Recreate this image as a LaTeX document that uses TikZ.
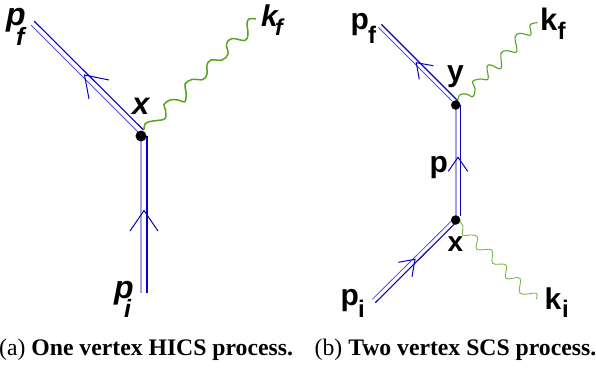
\documentclass[tikz,border=0pt]{standalone}
\usepackage{fontspec}
\setsansfont{Liberation Sans}
\setmainfont{Liberation Serif}
\definecolor{fblue}{RGB}{10,0,185}
\definecolor{lblue}{RGB}{165,160,235}
\definecolor{gleft}{RGB}{85,165,25}
\definecolor{gright}{RGB}{120,185,70}
\tikzset{
 lbl/.style={inner sep=0pt,anchor=base west,font=\fontsize{30}{30}\sffamily\bfseries,text=black},
 lbi/.style={lbl,font=\fontsize{32}{32}\sffamily\bfseries\itshape},
 sbl/.style={inner sep=0pt,anchor=base west,font=\fontsize{24}{24}\sffamily\bfseries,text=black},
 sbi/.style={sbl,font=\fontsize{25}{25}\sffamily\bfseries\itshape},
 captxt/.style={inner sep=0pt,anchor=base west,font=\fontsize{23.7}{26}\rmfamily,text=black},
 vtx/.style={circle,fill=black,inner sep=0pt,minimum size=11pt},
 vts/.style={circle,fill=black,inner sep=0pt,minimum size=9.5pt},
 dk/.style={draw=fblue,line width=1.1pt},
 lt/.style={draw=lblue,line width=2.2pt},
 lm/.style={draw=fblue!70!white,line width=.8pt},
 bb/.style={draw=fblue,line width=1pt,line join=miter},
 gwave/.style={draw=gleft,line width=1.5pt},
 gthin/.style={draw=gright,line width=.9pt},
}
\begin{document}
\begin{tikzpicture}[x=1pt,y=-1pt]
\useasboundingbox (0,0) rectangle (596,367);
% left diagram
\coordinate (aPa) at (34,21);
\coordinate (aPb) at (143.5,130);
\coordinate (aQa) at (31,25);
\coordinate (aQb) at (138,132);
\coordinate (aVa) at (141,136);
\coordinate (aVb) at (141,293);
\coordinate (aWa) at (147,136);
\coordinate (aWb) at (147,293);
\draw[dk] (aPa) -- (aPb);
\draw[lm] (aQa) -- (aQb);
\draw[lt] (aVa) -- (aVb);
\draw[dk] (aWa) -- (aWb);
\node[vtx] (av) at (141,136) {};
\draw[bb] (109,80) -- (84.5,75) -- (89,99);
\draw[bb] (130,231) -- (144,210.5) -- (158,231);
\draw[gwave] plot[smooth,tension=.62] coordinates {(144,129.5) (145,124) (150,121.5) (157,120.5) (165,118.5) (165.5,110) (164,104.5) (170,100) (178,100) (185,101.5) (186,92) (185,84) (192,79.5) (203,79.5) (207,74) (207,65) (211,60) (222,60) (228,54) (226.5,44) (232,38.5) (245,40.5) (248,34) (247,24) (249,19) (256,19)};
\node[lbi] (apf) at (6,25) {p};
\node[sbi] (apfs) at (16,45) {f};
\node[lbi,font=\fontsize{30}{30}\sffamily\bfseries\itshape] (akf) at (261,26) {k};
\node[sbi,font=\fontsize{23}{23}\sffamily\bfseries\itshape] (akfs) at (275,35) {f};
\node[lbi,font=\fontsize{31}{31}\sffamily\bfseries\itshape] (ax) at (132,114) {x};
\node[lbi] (api) at (114,298) {p};
\node[sbi] (apis) at (124,317) {i};
% right diagram
\coordinate (bPa) at (381.3,24.3);
\coordinate (bPb) at (457.7,100.7);
\coordinate (bQa) at (378.3,27.3);
\coordinate (bQb) at (451.7,100.7);
\coordinate (bVa) at (455.7,105);
\coordinate (bVb) at (455.7,218);
\coordinate (bWa) at (460.3,105);
\coordinate (bWb) at (460.3,216);
\coordinate (bRa) at (375.3,302.7);
\coordinate (bRb) at (456.7,221.7);
\coordinate (bSa) at (372.3,299.3);
\coordinate (bSb) at (451.7,220.7);
\draw[dk] (bPa) -- (bPb);
\draw[lm] (bQa) -- (bQb);
\draw[lt] (bVa) -- (bVb);
\draw[dk] (bWa) -- (bWb);
\draw[dk] (bRa) -- (bRb);
\draw[lm] (bSa) -- (bSb);
\node[vts] (by) at (455.7,105) {};
\node[vts] (bx) at (455.7,220) {};
\draw[bb] (433.3,65.7) -- (416.3,62.7) -- (419.3,79.3);
\draw[bb] (448.3,171.3) -- (458,157.3) -- (467.7,171.3);
\draw[bb] (398.3,262.3) -- (415,259.3) -- (412,276.7);
\draw[gwave,line width=1.1pt] plot[smooth,tension=.62] coordinates {(458,100) (459.5,95) (466,94) (473,96.5) (475,88) (472.5,81.5) (480,79) (488,79) (487,67) (491,65) (501,68.5) (501,53.5) (507,50.7) (516.7,51.7) (515,37.3) (520,33.3) (530.7,35) (530,25) (537.3,22.7)};
\draw[gthin] plot[smooth,tension=.62] coordinates {(460,221.7) (463,226.7) (462.7,235) (471.7,235) (477.7,237.3) (476.7,249.3) (491.7,250) (492.7,263.3) (506,265) (506,278.3) (520,278.3) (520,293.3) (536,293.3) (536,299.3)};
\node[lbl] (bpf) at (350.5,29) {p};
\node[sbl] (bpfs) at (368,43) {f};
\node[lbl,font=\fontsize{31}{31}\sffamily\bfseries] (bkf) at (540,30) {k};
\node[sbl] (bkfs) at (557.5,39) {f};
\node[lbl] (byl) at (447,81.5) {y};
\node[lbl] (bp) at (429.5,172) {p};
\node[lbl,font=\fontsize{28}{28}\sffamily\bfseries] (bxl) at (447.5,251.5) {x};
\node[lbl] (bpi) at (340.5,305) {p};
\node[sbl] (bpis) at (358,317) {i};
\node[lbl] (bki) at (544.5,309) {k};
\node[sbl] (bkis) at (562,317) {i};
% captions
\node[captxt] (capa) at (-1,355) {(a) \textbf{One vertex HICS process.}};
\node[captxt] (capb) at (314.5,355) {(b) \textbf{Two vertex SCS process.}};
\end{tikzpicture}
\end{document}
